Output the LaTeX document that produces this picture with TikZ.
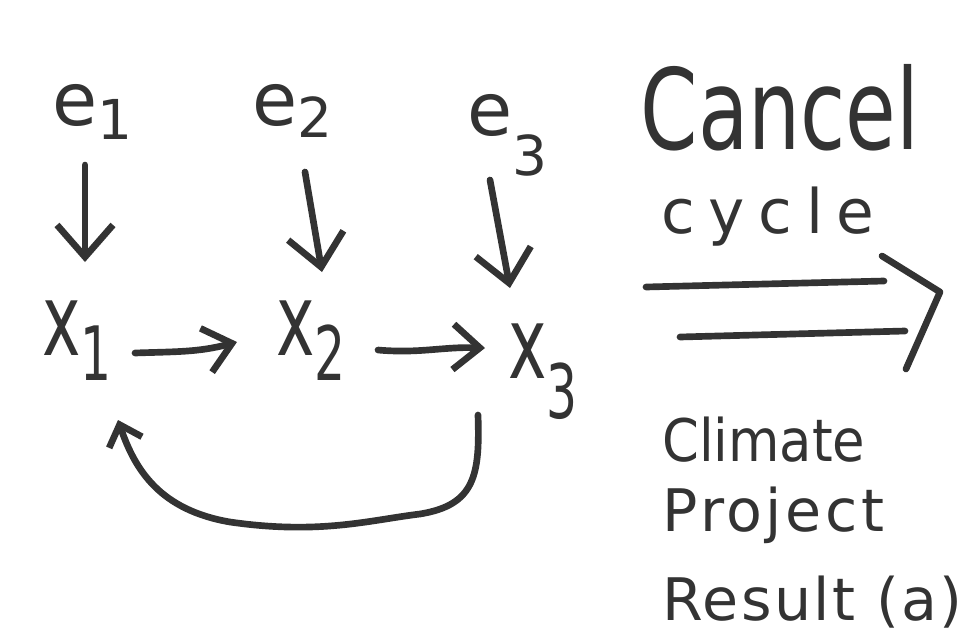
\documentclass[tikz,border=0pt]{standalone}
\usepackage{fontspec}
\setmainfont{DejaVu Sans}
\usetikzlibrary{arrows.meta}
\definecolor{ink}{HTML}{333333}
\newcommand\lowsub[2][0.25em]{\raisebox{-#1}{\scalebox{0.75}{#2}}}
\begin{document}
\begin{tikzpicture}[x=0.75pt,y=-0.75pt,
  ink/.style={draw=ink,line width=5pt,line cap=round,line join=round},
  tip/.style={-{Straight Barb[length=24pt,width=42pt,line width=5pt]}},
  htip/.style={-{Straight Barb[length=20pt,width=34pt,line width=5pt]}},
  lbl/.style={text=ink,inner sep=0pt,anchor=base west,font=\fontsize{55}{55}\selectfont},
  xlbl/.style={lbl,font=\fontsize{75}{75}\selectfont},
  big/.style={text=ink,inner sep=0pt}]
\useasboundingbox (0,0) rectangle (964,643);
% variables
\node[lbl] (e1) at (52,125) {e\lowsub[0.2em]{1}};
\node[lbl] (e2) at (252,125) {e\lowsub[0.17em]{2}};
\node[lbl] (e3) at (467,135) {e\lowsub[0.55em]{3}};
\node[xlbl] (x1) at (42,355) {\scalebox{0.65}[1]{x\lowsub{1}}};
\node[xlbl] (x2) at (276,355) {\scalebox{0.65}[1]{x\lowsub{2}}};
\node[xlbl] (x3) at (508,378) {\scalebox{0.65}[1]{x\lowsub[0.4em]{3}}};
% right texts
\node[big,font=\fontsize{84}{84}\selectfont,anchor=base] (cancel) at (780,149) {\scalebox{0.735}[1]{Cancel}};
\node[big,font=\fontsize{46}{46}\selectfont\addfontfeature{LetterSpace=22},anchor=base] (cycle) at (768,233) {cycle};
\node[big,font=\fontsize{44}{44}\selectfont,anchor=west] (climate) at (662,440) {\scalebox{0.9}[1]{Climate}};
\node[big,font=\fontsize{44}{44}\selectfont\addfontfeature{LetterSpace=6},anchor=west] (project) at (662,515) {Project};
\node[big,font=\fontsize{44}{44}\selectfont\addfontfeature{LetterSpace=4},anchor=west] (result) at (662,602) {Result (a)};
% down arrows
\draw[ink,tip] ([shift={(33,40)}]e1.base west) -- ([shift={(43,-93)}]x1.base west);
\draw[ink,tip] ([shift={(53,47)}]e2.base west) -- ([shift={(46,-83)}]x2.base west);
\draw[ink,tip] ([shift={(23,45)}]e3.base west) -- ([shift={(2,-90)}]x3.base west);
% horizontal arrows
\draw[ink,htip] ([shift={(93,-2)}]x1.base west) to[out=2,in=-165] ([shift={(-39,-13)}]x2.base west);
\draw[ink,htip] ([shift={(102,-5)}]x2.base west) to[out=-5,in=178] ([shift={(-23,-30)}]x3.base west);
% feedback loop
\draw[ink,-{Straight Barb[length=14pt,width=26pt,line width=5pt]}] ([shift={(-30,37)}]x3.base west)
  .. controls ++(2,60) and (475,505) .. (420,514)
  .. controls (370,520) and (320,535) .. (230,522)
  .. controls (160,510) and (135,470) .. ([shift={(76,65)}]x1.base west);
% implication arrow
\coordinate (l1a) at (646,287); \coordinate (l1b) at (884,281);
\coordinate (l2a) at (680,337); \coordinate (l2b) at (905,331);
\coordinate (h1) at (882,256); \coordinate (h2) at (940,292); \coordinate (h3) at (906,369);
\draw[ink] (l1a) -- (l1b);
\draw[ink] (l2a) -- (l2b);
\draw[ink] (h1) -- (h2) -- (h3);
\end{tikzpicture}
\end{document}
